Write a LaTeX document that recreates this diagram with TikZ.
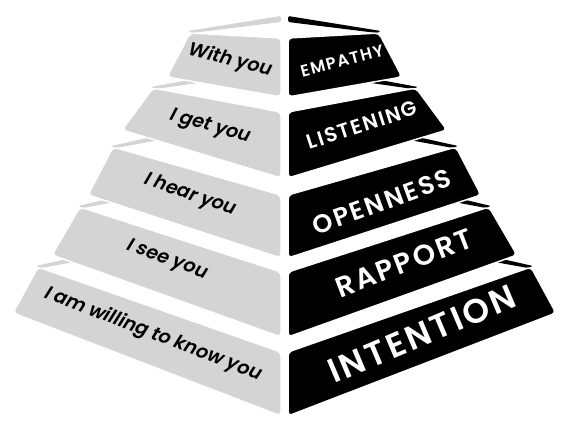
\documentclass[tikz,border=0pt]{standalone}
\usepackage{fontspec}
\setmainfont{Poppins}
\newfontfamily\capsfont[LetterSpace=8]{Poppins SemiBold}
\newfontfamily\slabfont[FakeSlant=0.2]{Poppins SemiBold}
\usetikzlibrary{positioning}
\definecolor{stonegray}{RGB}{212,212,212}

\tikzset{
  lface/.style={fill=stonegray, draw=white, line width=1.5pt, rounded corners=4pt},
  rface/.style={fill=black, draw=white, line width=1.5pt, rounded corners=4pt},
  lrim/.style={fill=stonegray, rounded corners=1.5pt},
  rrim/.style={fill=black, rounded corners=1.5pt},
  ltext/.style={text=black, inner sep=0pt, font=\slabfont\fontsize{19}{19}\selectfont},
  rtext/.style={text=white, inner sep=0pt}
}

\begin{document}
\begin{tikzpicture}[x=1pt,y=-1pt]
\useasboundingbox (0,0) rectangle (566,427);

% bottom layer first, upper slabs cover the rims
\fill[lrim] (36,266) -- (80,256) -- (80,261) -- (41,268) -- cycle;
\filldraw[lface] (38,267) -- (281,352) -- (281,416) -- (13,313) -- cycle;
\fill[rrim] (533,266) -- (489,256) -- (489,261) -- (528,268) -- cycle;
\filldraw[rface] (531,267) -- (288,352) -- (288,416) -- (556,313) -- cycle;

\fill[lrim] (78,206) -- (120,196) -- (120,201) -- (83,208) -- cycle;
\filldraw[lface] (80,207) -- (281,272) -- (281,337) -- (52,255) -- cycle;
\fill[rrim] (491,206) -- (449,196) -- (449,201) -- (486,208) -- cycle;
\filldraw[rface] (489,207) -- (288,272) -- (288,337) -- (517,255) -- cycle;

\fill[lrim] (111,146) -- (165,134) -- (165,139) -- (116,148) -- cycle;
\filldraw[lface] (113,147) -- (281,195) -- (281,258) -- (88,195) -- cycle;
\fill[rrim] (458,146) -- (404,134) -- (404,139) -- (453,148) -- cycle;
\filldraw[rface] (456,147) -- (288,195) -- (288,258) -- (481,195) -- cycle;

\fill[lrim] (151,87) -- (205,77) -- (205,82) -- (156,89) -- cycle;
\filldraw[lface] (153,88) -- (281,112) -- (281,178) -- (122,130) -- cycle;
\fill[rrim] (418,87) -- (364,77) -- (364,82) -- (413,89) -- cycle;
\filldraw[rface] (416,88) -- (288,112) -- (288,178) -- (447,130) -- cycle;

\fill[lrim] (188,31) -- (281,16) -- (281,22) -- (192,33) -- cycle;
\filldraw[lface] (190,33) -- (281,38) -- (281,97) -- (167,77) -- cycle;
\fill[rrim] (381,31) -- (288,16) -- (288,22) -- (377,33) -- cycle;
\filldraw[rface] (379,33) -- (288,38) -- (288,97) -- (402,77) -- cycle;

% labels
\node[ltext, rotate=-14] (withyou) at (229,60) {With you};
\node[ltext, rotate=-16] (getyou) at (209,127) {I get you};
\node[ltext, rotate=-19] (hearyou) at (189,195) {I hear you};
\node[ltext, rotate=-20] (seeyou) at (166,260) {I see you};
\node[ltext, rotate=-21] (knowyou) at (152,334) {I am willing to know you};

\node[rtext, rotate=15, font=\capsfont\fontsize{16.5}{16.5}\selectfont] (empathy) at (342,61) {EMPATHY};
\node[rtext, rotate=18, font=\capsfont\fontsize{20.5}{20.5}\selectfont] (listening) at (362,125) {LISTENING};
\node[rtext, rotate=20, font=\capsfont\fontsize{25.5}{25.5}\selectfont] (openness) at (382,202) {OPENNESS};
\node[rtext, rotate=21, font=\capsfont\fontsize{28.5}{28.5}\selectfont] (rapport) at (404,263) {RAPPORT};
\node[rtext, rotate=23, font=\capsfont\fontsize{34}{34}\selectfont] (intention) at (422,334) {INTENTION};

\end{tikzpicture}
\end{document}
